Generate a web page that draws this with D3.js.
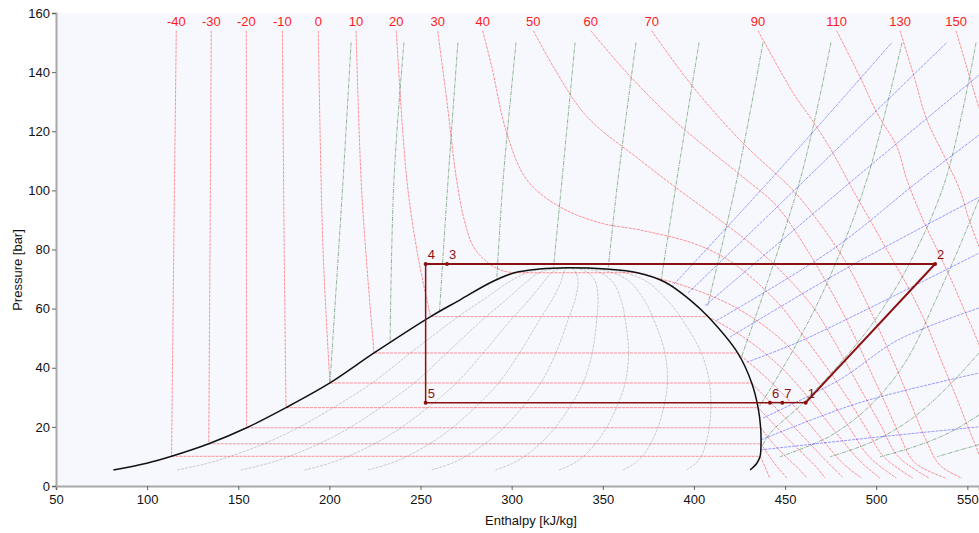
<!DOCTYPE html>
<html>
<head>
<meta charset="utf-8">
<script src="https://cdn.jsdelivr.net/npm/d3@7"></script>
<style>
  body { margin: 0; background: #fff; }
  svg text { font-family: "Liberation Sans", Arial, sans-serif; }
</style>
</head>
<body>
<div id="chart"></div>
<script>
// Saturation table (pressure, liquid enthalpy, vapour enthalpy)
const satP  = [5.4, 7.7, 10.05, 14.28, 19.7, 26.5, 34.85, 45.0, 57.3, 62.9, 69.0, 72.14, 73.4, 73.85];
const satHl = [81.5, 99.8, 113.4, 133.8, 154.6, 176.2, 200.3, 224.5, 255.5, 271.5, 289.0, 301.5, 315.0, 331.0];
const satHv = [430.8, 434.5, 436.3, 436.8, 436.6, 435.2, 431.7, 424.0, 407.7, 398.0, 384.0, 369.0, 352.0, 331.0];

// Vapour quality lines
const qualities = [0.1, 0.2, 0.3, 0.4, 0.5, 0.6, 0.7, 0.8, 0.9];

// Isotherms [h, p]
const isoTemps = [-40, -30, -20, -10, 0, 10, 20, 30, 40, 50, 60, 70, 90, 110, 130, 150];
const isotherms = [
  [[116.0,154],[114.6,80],[113.4,10.05],[436.3,10.05],[439,6.5],[441.5,2.7]],
  [[135.2,154],[134.5,80],[133.8,14.28],[436.8,14.28],[442,9.5],[447,5.5],[451,2.7]],
  [[154.4,154],[154.5,80],[154.6,19.7],[436.6,19.7],[444,14],[452,9],[458,5.5],[462,2.7]],
  [[174.2,154],[175.2,80],[176.2,26.5],[435.2,26.5],[446,19.5],[458,12],[467,6.5],[472,2.7]],
  [[193.9,154],[196.5,80],[200.3,34.85],[431.7,34.85],[444,27],[458,18],[471,9.5],[482,2.7]],
  [[214.6,154],[217.4,103.5],[220.5,75],[224.5,45.0],[424.0,45.0],[439,37],[455,27],[470,16],[482,7.5],[492,2.7]],
  [[236.7,154],[242.5,103.5],[248.5,78],[255.5,57.3],[407.7,57.3],[428,50],[448,40],[464,29],[478,18],[491,8.5],[502,2.7]],
  [[259.4,154],[264.5,130],[269.8,103.5],[274,90],[279,81],[287,75.5],[295,72.8],[301.5,72.14],[369,72.14],[398,67],[424,60],[447,50],[462,40],[474,30],[485,20],[496,10],[511,2.7]],
  [[284.1,154],[289,142],[297.3,119.4],[308.4,103.5],[326.5,94.4],[348.5,89],[370.4,86.6],[400,82],[420,76],[446,62],[461,50],[473,40],[484,30],[494,20],[504,10],[520,2.7]],
  [[311.9,154],[322.9,141.8],[341.2,125],[370.4,110.3],[390,101],[412,91],[435,80],[452,70],[466,60],[476,50],[485,40],[494,30],[503,20],[512,10],[529,2.7]],
  [[343.4,154],[363.3,139.7],[390.7,122.8],[426.9,104.5],[445,95],[462,80],[477,64],[487,52],[496,40],[505,28],[513,17],[521,8],[538,2.7]],
  [[376.8,154],[399.5,135],[426.9,116],[454.4,100],[470,88],[484,75],[494,63],[503,51],[511,40],[519,28],[527,16],[535,7],[547,2.7]],
  [[435.2,154],[454.4,133],[464.8,123.8],[476.3,112.6],[487.3,100],[496.6,90],[507.6,78],[518.6,66],[528,54],[536,42],[544,30],[551,19],[557,10]],
  [[478.3,154],[491.1,138.4],[500.4,126.2],[511.4,114.7],[516.9,103.5],[525.7,90],[533.4,80],[541,70],[548,60],[555,50],[560,42]],
  [[513.1,154],[521,138],[527.7,124],[537,112],[546,100],[551,90],[557,80]],
  [[543.8,154],[550,141],[556.4,128],[560,121]]
];

// Isentropes [h, p]
const isentropes = [
  [[211.9,150],[207.5,103.5],[200.3,34.85]],
  [[240.9,150],[235.4,103.5],[233.3,48.5]],
  [[270.5,150],[265.1,103.5],[260.4,59]],
  [[302.4,150],[295.3,103.5],[291.8,69.7]],
  [[334.8,150],[327.6,103.5],[323,74.2]],
  [[368.2,150],[358.3,103.5],[353,74]],
  [[402.8,150],[390.6,103.5],[382,69.5]],
  [[437.9,150],[423.5,103.5],[407.5,61]],
  [[475.2,150],[458.2,103.5],[426,43.5]],
  [[514.2,150],[494.8,103.5],[474,70],[458,50],[445,36],[436,27]],
  [[554.8,150],[538,103.5],[518,75],[498,55],[478,40],[458,27],[442,18],[437,13]],
  [[556.4,97],[545,80],[532,62],[516.7,42.6],[498,28],[475,17],[447.2,9.9]],
  [[556.4,45],[540,34],[520,23],[498,15],[474.7,9.9]],
  [[556.4,24],[540,18],[522,13.5],[502.1,9.9]],
  [[556.4,14],[545,12],[533.4,9.9]]
];

// Isochores [h, p]
const isochores = [
  [[387.6,67.3],[441.8,103.5],[508.6,150]],
  [[396.8,65.3],[460.9,103.5],[538.7,150]],
  [[406.1,61],[487.3,103.5],[556.4,139]],
  [[412.5,56],[476,80],[524,103.5],[556.4,118.7]],
  [[419.8,50.4],[481.8,73],[556.4,97.7]],
  [[429.1,41.9],[459.9,49.4],[556.4,78.8]],
  [[437.9,23],[480,36],[512,49.4],[556.4,60.2]],
  [[436.8,15.6],[490,28],[556.4,38.2]],
  [[436.5,12.2],[500,16.5],[556.4,20]]
];

// Cycle state points
const cycleLabels = ["1", "2", "3", "4", "5", "6", "7"];
const cycleH = [461.3, 532.3, 264.5, 252.8, 252.8, 441.7, 448.5];
const cycleP = [28.2, 75.1, 75.1, 75.1, 28.2, 28.2, 28.2];

const xTicks = [50, 100, 150, 200, 250, 300, 350, 400, 450, 500, 550];
const yTicks = [0, 20, 40, 60, 80, 100, 120, 140, 160];

const W = 979, H = 533;
const plotL = 56, plotR = 979, plotT = 13, plotB = 486;

const svg = d3.select("#chart").append("svg")
  .attr("width", W).attr("height", H);

const x = d3.scaleLinear().domain([50, 556.4]).range([plotL, plotR]);
const y = d3.scaleLinear().domain([0, 160]).range([plotB, plotT]);

svg.append("rect")
  .attr("x", plotL).attr("y", plotT)
  .attr("width", plotR - plotL).attr("height", plotB - plotT)
  .attr("fill", "#f7f8fd");

svg.append("clipPath").attr("id", "plot")
  .append("rect")
  .attr("x", plotL).attr("y", plotT)
  .attr("width", plotR - plotL).attr("height", plotB - plotT);

const g = svg.append("g").attr("clip-path", "url(#plot)");

const smooth = d3.line().x(d => x(d[0])).y(d => y(d[1])).curve(d3.curveCatmullRom.alpha(0.5));
const straight = d3.line().x(d => x(d[0])).y(d => y(d[1]));

// split a polyline at horizontal steps so the two-phase part stays straight
function pieces(pts) {
  const out = [];
  let run = [pts[0]];
  for (let i = 1; i < pts.length; i++) {
    if (pts[i][1] === pts[i - 1][1]) {
      out.push({ d: run, curved: true });
      out.push({ d: [pts[i - 1], pts[i]], curved: false });
      run = [pts[i]];
    } else {
      run.push(pts[i]);
    }
  }
  out.push({ d: run, curved: true });
  return out.filter(p => p.d.length > 1);
}

// quality lines
qualities.forEach(q => {
  const pts = satP.map((p, i) => [satHl[i] + q * (satHv[i] - satHl[i]), p]);
  g.append("path")
    .attr("d", smooth(pts))
    .attr("fill", "none")
    .attr("stroke", "#9a9a9a")
    .attr("stroke-width", 0.8)
    .attr("stroke-dasharray", "3,1")
    .attr("opacity", 0.6);
});

// isotherms
isotherms.forEach(pts => {
  pieces(pts).forEach(p => {
    g.append("path")
      .attr("d", (p.curved ? smooth : straight)(p.d))
      .attr("fill", "none")
      .attr("stroke", "#ff0000")
      .attr("stroke-width", 1)
      .attr("stroke-dasharray", "3,1")
      .attr("opacity", 0.42);
  });
});

// isentropes
isentropes.forEach(pts => {
  g.append("path")
    .attr("d", smooth(pts))
    .attr("fill", "none")
    .attr("stroke", "#2a6e2a")
    .attr("stroke-width", 1)
    .attr("stroke-dasharray", "4,1,1,1")
    .attr("opacity", 0.5);
});

// isochores
isochores.forEach(pts => {
  g.append("path")
    .attr("d", smooth(pts))
    .attr("fill", "none")
    .attr("stroke", "#0000ff")
    .attr("stroke-width", 1)
    .attr("stroke-dasharray", "3,1")
    .attr("opacity", 0.38);
});

// saturation dome
const dome = satP.map((p, i) => [satHl[i], p])
  .concat(satP.slice(0, -1).map((p, i) => [satHv[i], p]).reverse());
g.append("path")
  .attr("d", smooth(dome))
  .attr("fill", "none")
  .attr("stroke", "#111")
  .attr("stroke-width", 1.5);

// isotherm labels
svg.selectAll(".tlabel")
  .data(isoTemps)
  .enter().append("text")
  .attr("class", "tlabel")
  .attr("x", (d, i) => x(isotherms[i][0][0]))
  .attr("y", 26)
  .attr("text-anchor", "middle")
  .attr("font-size", 13)
  .attr("fill", "#ff1a1a")
  .text(d => d);

// cycle
const cyc = "#8b1111";
const order = [0, 1, 2, 3, 4, 5, 6, 0];
const widths = [2, 2, 2, 1.5, 1.5, 1.5, 1.5];
for (let k = 0; k < order.length - 1; k++) {
  const a = order[k], b = order[k + 1];
  g.append("line")
    .attr("x1", x(cycleH[a])).attr("y1", y(cycleP[a]))
    .attr("x2", x(cycleH[b])).attr("y2", y(cycleP[b]))
    .attr("stroke", cyc)
    .attr("stroke-width", widths[k]);
}
g.selectAll(".pt")
  .data(cycleLabels)
  .enter().append("circle")
  .attr("cx", (d, i) => x(cycleH[i]))
  .attr("cy", (d, i) => y(cycleP[i]))
  .attr("r", 2)
  .attr("fill", cyc);
svg.selectAll(".plabel")
  .data(cycleLabels)
  .enter().append("text")
  .attr("x", (d, i) => x(cycleH[i]) + 2)
  .attr("y", (d, i) => y(cycleP[i]) - 5)
  .attr("font-size", 13)
  .attr("fill", cyc)
  .text(d => d);

// axes
const xAxis = svg.append("g")
  .attr("transform", `translate(0,${plotB})`)
  .call(d3.axisBottom(x).tickValues(xTicks).tickSize(4).tickPadding(5));
const yAxis = svg.append("g")
  .attr("transform", `translate(${plotL},0)`)
  .call(d3.axisLeft(y).tickValues(yTicks).tickSize(4).tickPadding(2));
[xAxis, yAxis].forEach(a => {
  a.select(".domain").attr("stroke", "#a8a8a8").attr("stroke-width", 2);
  a.selectAll(".tick line").attr("stroke", "#666");
  a.selectAll(".tick text")
    .attr("font-size", 13)
    .attr("fill", "#111")
    .style("font-family", "'Liberation Sans', Arial, sans-serif");
});

svg.append("text")
  .attr("x", 531).attr("y", 525)
  .attr("text-anchor", "middle")
  .attr("font-size", 13)
  .attr("fill", "#111")
  .text("Enthalpy [kJ/kg]");

svg.append("text")
  .attr("transform", "translate(22,270) rotate(-90)")
  .attr("text-anchor", "middle")
  .attr("font-size", 13)
  .attr("fill", "#111")
  .text("Pressure [bar]");
</script>
</body>
</html>
